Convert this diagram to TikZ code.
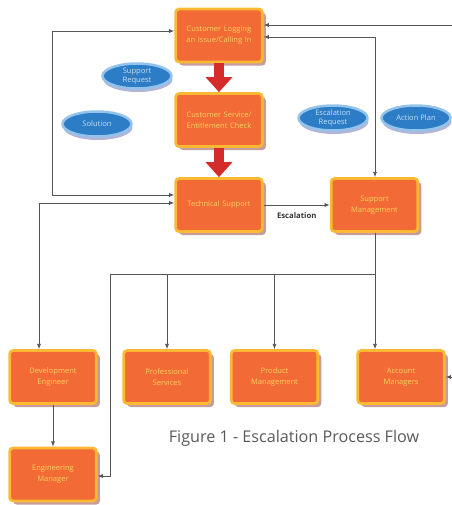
\documentclass[tikz,border=0pt]{standalone}
\usepackage{fontspec}
\setsansfont{Open Sans}
\usetikzlibrary{shapes.geometric,shadows,arrows.meta}

\definecolor{boxfill}{HTML}{F26A36}
\definecolor{boxedge}{HTML}{FDB934}
\definecolor{boxtext}{HTML}{FFD35C}
\definecolor{boxshade}{HTML}{8C3B3B}
\definecolor{ovalfill}{HTML}{2C7CC6}
\definecolor{ovaledge}{HTML}{93C3EA}
\definecolor{ovaltext}{HTML}{C4E0F7}
\definecolor{bigred}{HTML}{D42B2B}
\definecolor{wire}{HTML}{555555}

\begin{document}
\begin{tikzpicture}[x=0.02cm, y=-0.02cm, font=\sffamily,
    stepbox/.style={rectangle, rounded corners=2pt, fill=boxfill, draw=boxedge,
      line width=0.055cm, minimum width=1.66cm, minimum height=1.06cm,
      text width=1.5cm, align=center, text=boxtext,
      font=\sffamily\fontsize{4.3}{6.2}\selectfont,
      drop shadow={shadow xshift=0.07cm, shadow yshift=-0.07cm, fill=boxshade, opacity=0.5}},
    oval/.style={ellipse, fill=ovalfill, draw=ovaledge, line width=0.05cm,
      minimum width=1.38cm, minimum height=0.5cm, inner sep=0pt, align=center,
      text=ovaltext, font=\sffamily\fontsize{4.3}{5.2}\selectfont,
      drop shadow={shadow xshift=0.02cm, shadow yshift=-0.07cm, fill=gray!70!blue, opacity=0.45}},
    flow/.style={draw=wire, line width=0.5pt},
    >={Latex[length=3pt,width=2.4pt]},
    bigarrow/.style={draw=bigred, line width=0.2cm, -{Triangle[width=0.52cm,length=0.3cm]}}]
    \useasboundingbox (0,0) rectangle (451,505);

    % main column
    \node[stepbox] (cl) at (219,35.5) {Customer Logging\\an Issue/Calling In};
    \node[stepbox] (cs) at (219,120) {Customer Service/\\Entitlement Check};
    \node[stepbox] (ts) at (219,205) {Technical Support};
    \node[stepbox] (sm) at (374.5,205) {Support\\Management};

    % bottom row
    \node[stepbox] (de) at (53,377) {Development\\Engineer};
    \node[stepbox] (ps) at (167,377) {Professional\\Services};
    \node[stepbox] (pm) at (274.5,377) {Product\\Management};
    \node[stepbox] (am) at (401,377) {Account\\Managers};
    \node[stepbox] (em) at (53,474.5) {Engineering\\Manager};

    % ovals
    \node[oval] (supreq) at (137,76) {Support\\Request};
    \node[oval] (solution) at (97,124) {Solution};
    \node[oval] (escreq) at (333,118) {Escalation\\Request};
    \node[oval] (actplan) at (416,118) {Action Plan};

    \draw[bigarrow] (cl.south) -- (cs.north);
    \draw[bigarrow] (cs.south) -- (ts.north);

    \coordinate (lt) at (52,31);
    \coordinate (lb) at (52,195);
    \draw[flow,<->] (cl.west |- lt) -- (lt) -- (lb) -- (ts.west |- lb);

    \coordinate (dt) at (39,203);
    \draw[flow,<->] (ts.west |- dt) -- (dt) -- (dt |- de.north);

    \draw[flow,->] (ts.east) -- (sm.west) node[midway, below=1pt, text=black!80,
      font=\sffamily\bfseries\fontsize{4.4}{5}\selectfont] {Escalation};

    \coordinate (rt) at (375,37);
    \draw[flow,<->] (cl.east |- rt) -- (rt) -- (rt |- sm.north);

    \coordinate (et) at (454,25);
    \coordinate (eb) at (454,377);
    \draw[flow,<->] (cl.east |- et) -- (et) -- (eb) -- (am.east);

    % distribution line
    \coordinate (bus) at (375,274);
    \coordinate (bl) at (110,274);
    \coordinate (bd) at (110,476);
    \draw[flow,->] (sm.south -| rt) -- (rt |- am.north);
    \draw[flow,->] (bus) -- (bl) -- (bd) -- (em.east |- bd);
    \draw[flow,->] (bus -| ps.north) -- (ps.north);
    \draw[flow,->] (bus -| pm.north) -- (pm.north);
    \draw[flow,->] (de) -- (em);

    \node[text=black!65, font=\sffamily\fontsize{9.2}{11}\selectfont] (caption) at (294,438)
      {Figure 1 - Escalation Process Flow};

\end{tikzpicture}
\end{document}
